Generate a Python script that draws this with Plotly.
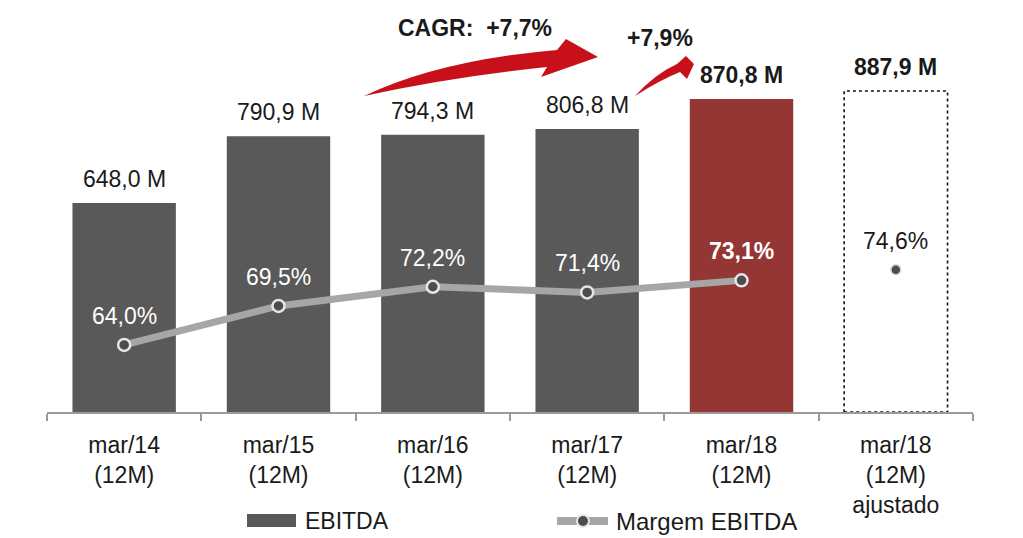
import plotly.graph_objects as go

# ---------------- data ----------------
categories = ["mar/14<br>(12M)", "mar/15<br>(12M)", "mar/16<br>(12M)",
              "mar/17<br>(12M)", "mar/18<br>(12M)", "mar/18<br>(12M)<br>ajustado"]
ebitda = [648.0, 790.9, 794.3, 806.8, 870.8, 887.9]
ebitda_labels = ["648,0 M", "790,9 M", "794,3 M", "806,8 M", "870,8 M", "887,9 M"]
margin = [64.0, 69.5, 72.2, 71.4, 73.1, 74.6]
margin_labels = ["64,0%", "69,5%", "72,2%", "71,4%", "73,1%", "74,6%"]
cagr_text = "CAGR:  +7,7%"
growth_text = "+7,9%"

# ---------------- style ----------------
FONT = "Liberation Sans, Arial, sans-serif"
FS = 23
W, H = 1023, 538
ML, MR, MT, MB = 47, 50, 0, 126
BAR_W = 0.67
Y_RANGE = [200.3, 1082.9]
Y2_RANGE = [54.56, 112.59]
bar_colors = ["#595959", "#595959", "#595959", "#595959", "#943634", "#ffffff"]
TXT = "#1a1a1a"
RED = "#c8101a"

PW = W - ML - MR
PH = H - MT - MB


def px(x):
    return (x - ML) / PW


def py(y):
    return (H - MB - y) / PH


fig = go.Figure()

fig.add_trace(go.Bar(
    x=categories, y=ebitda, marker=dict(color=bar_colors, line=dict(width=0)),
    width=BAR_W, showlegend=False, hoverinfo="skip"))

n_line = 5
fig.add_trace(go.Scatter(
    x=categories[:n_line], y=margin[:n_line], yaxis="y2", mode="lines+markers",
    line=dict(color="#a6a6a6", width=7),
    marker=dict(size=12, color="#4d4d4d", line=dict(color="#e6e6e6", width=2.5)),
    showlegend=False, hoverinfo="skip"))
fig.add_trace(go.Scatter(
    x=categories[n_line:], y=margin[n_line:], yaxis="y2", mode="markers",
    marker=dict(size=10, color="#4d4d4d", line=dict(color="#d9d9d9", width=1.5)),
    showlegend=False, hoverinfo="skip"))

annotations = []
for i, (c, v, t) in enumerate(zip(categories, ebitda, ebitda_labels)):
    bold = i >= 4
    annotations.append(dict(
        x=c, y=v, xref="x", yref="y", text=f"<b>{t}</b>" if bold else t,
        showarrow=False, xanchor="center", yanchor="middle", yshift=24,
        font=dict(family=FONT, size=FS, color=TXT)))

for i, (c, v, t) in enumerate(zip(categories, margin, margin_labels)):
    col = "#ffffff" if i < 5 else TXT
    txt = f"<b>{t}</b>" if i == 4 else t
    annotations.append(dict(
        x=c, y=v, xref="x", yref="y2", text=txt, showarrow=False,
        xanchor="center", yanchor="middle", yshift=29,
        font=dict(family=FONT, size=FS, color=col)))

annotations.append(dict(x=px(475), y=py(28), xref="paper", yref="paper",
                        text=f"<b>{cagr_text}</b>", showarrow=False,
                        xanchor="center", yanchor="middle",
                        font=dict(family=FONT, size=FS, color=TXT)))
annotations.append(dict(x=px(660), y=py(38), xref="paper", yref="paper",
                        text=f"<b>{growth_text}</b>", showarrow=False,
                        xanchor="center", yanchor="middle",
                        font=dict(family=FONT, size=FS, color=TXT)))

# legend (manual)
annotations.append(dict(x=px(303), y=py(521), xref="paper", yref="paper",
                        text="EBITDA", showarrow=False, xanchor="left",
                        yanchor="middle",
                        font=dict(family=FONT, size=FS, color=TXT)))
annotations.append(dict(x=px(614), y=py(521), xref="paper", yref="paper",
                        text="Margem EBITDA", showarrow=False, xanchor="left",
                        yanchor="middle",
                        font=dict(family=FONT, size=FS + 1, color=TXT)))


def pth(pts_cmds):
    out = []
    for cmd, pts in pts_cmds:
        coords = " ".join(f"{px(x):.5f},{py(y):.5f}" for x, y in pts)
        out.append(f"{cmd}{coords}")
    return " ".join(out) + " Z"


shapes = []
# dotted outline for adjusted bar
last = len(categories) - 1
shapes.append(dict(type="rect", xref="x", yref="y",
                   x0=last - BAR_W / 2, x1=last + BAR_W / 2,
                   y0=Y_RANGE[0], y1=ebitda[last],
                   line=dict(color="#111111", width=1.6, dash="dot"),
                   fillcolor="rgba(0,0,0,0)"))

# big CAGR arrow
big = pth([("M", [(364, 96)]), ("Q", [(440, 60), (557, 50)]),
           ("L", [(566, 39)]), ("L", [(598, 57)]), ("L", [(541, 77)]),
           ("L", [(547, 67)]), ("Q", [(450, 77), (364, 96)])])
shapes.append(dict(type="path", xref="paper", yref="paper", path=big,
                   fillcolor=RED, line=dict(width=0)))
small = pth([("M", [(635, 96)]), ("Q", [(655, 74), (677, 64)]),
             ("L", [(686, 56)]), ("L", [(694, 64)]), ("L", [(687, 79)]),
             ("L", [(680, 72)]), ("Q", [(660, 80), (635, 96)])])
shapes.append(dict(type="path", xref="paper", yref="paper", path=small,
                   fillcolor=RED, line=dict(width=0)))

# legend symbols
shapes.append(dict(type="rect", xref="paper", yref="paper",
                   x0=px(247), x1=px(296), y0=py(527), y1=py(514),
                   fillcolor="#595959", line=dict(width=0)))
shapes.append(dict(type="line", xref="paper", yref="paper",
                   x0=px(557), x1=px(608), y0=py(521), y1=py(521),
                   line=dict(color="#a6a6a6", width=8)))
shapes.append(dict(type="circle", xref="paper", yref="paper",
                   x0=px(577), x1=px(589), y0=py(527), y1=py(515),
                   fillcolor="#4d4d4d", line=dict(color="#e6e6e6", width=2)))

fig.update_layout(
    width=W, height=H, margin=dict(l=ML, r=MR, t=MT, b=MB),
    paper_bgcolor="white", plot_bgcolor="white",
    bargap=1 - BAR_W, showlegend=False,
    font=dict(family=FONT, size=FS, color=TXT),
    xaxis=dict(type="category", tickson="boundaries", ticks="outside",
               ticklen=7, tickcolor="#9a9a9a", tickwidth=1.5,
               showline=True, linecolor="#9a9a9a", linewidth=1.5,
               showgrid=False, zeroline=False, ticklabelstandoff=12,
               tickfont=dict(family=FONT, size=FS, color=TXT),
               range=[-0.5, len(categories) - 0.5]),
    yaxis=dict(range=Y_RANGE, visible=False, showgrid=False, zeroline=False),
    yaxis2=dict(range=Y2_RANGE, overlaying="y", visible=False,
                showgrid=False, zeroline=False),
    annotations=annotations, shapes=shapes,
)

fig.write_html("out.html")
